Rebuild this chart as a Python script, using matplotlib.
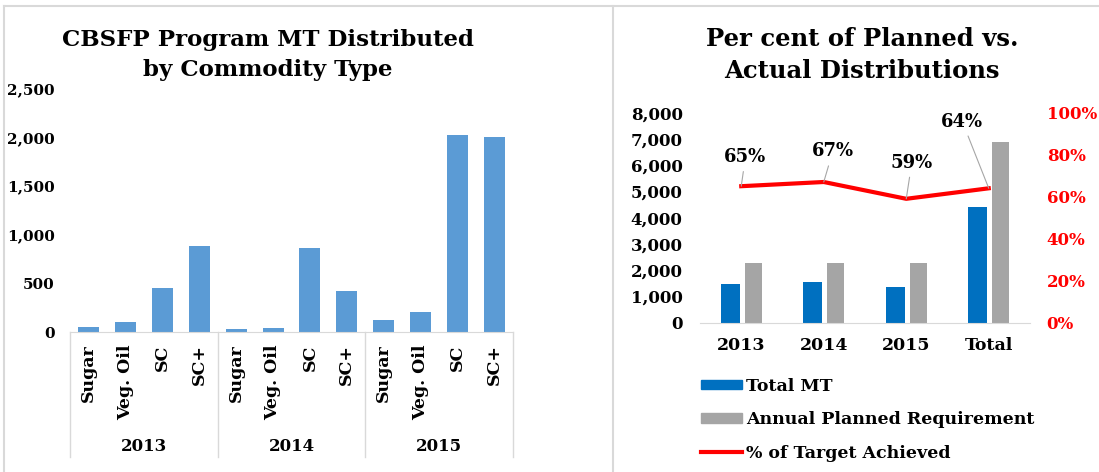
import matplotlib.pyplot as plt
from matplotlib.lines import Line2D
from matplotlib.patches import Patch

# left chart data
years = ["2013", "2014", "2015"]
commodities = ["Sugar", "Veg. Oil", "SC", "SC+"]
mt_2013 = [51, 103, 452, 883]
mt_2014 = [28, 41, 862, 421]
mt_2015 = [123, 205, 2023, 2002]

# right chart data
periods = ["2013", "2014", "2015", "Total"]
total_mt = [1480, 1550, 1360, 4390]
planned = [2290, 2290, 2290, 6870]
pct_achieved = [0.65, 0.67, 0.59, 0.64]
pct_labels = ["65%", "67%", "59%", "64%"]

W, H = 1099, 472
FONT = "DejaVu Serif"
plt.rcParams["font.family"] = FONT
plt.rcParams["font.weight"] = "bold"

fig = plt.figure(figsize=(W / 100, H / 100), dpi=100)


def fx(px):
    return px / W


def fy(py):
    return 1 - py / H


# panel borders
border = "#d9d9d9"
fig.add_artist(Line2D([fx(4), 1], [fy(6), fy(6)], color=border, lw=1.5))
fig.add_artist(Line2D([fx(4), fx(4)], [fy(6), 0], color=border, lw=1.5))
fig.add_artist(Line2D([fx(613), fx(613)], [fy(6), 0], color=border, lw=1.5))

# ---- left chart ----
ax1 = fig.add_axes([fx(70), fy(332), fx(513) - fx(70), fy(88.5) - fy(332)])
values = mt_2013 + mt_2014 + mt_2015
xs = list(range(len(values)))
ax1.bar(xs, values, width=0.57, color="#5B9BD5")
ax1.set_xlim(-0.5, len(values) - 0.5)
ax1.set_ylim(0, 2500)
ax1.set_yticks(range(0, 2501, 500))
ax1.set_yticklabels([f"{v:,}" for v in range(0, 2501, 500)], fontsize=11, fontweight="bold")
ax1.tick_params(axis="y", length=0, pad=11)
ax1.set_xticks([])
for s in ["top", "right", "left"]:
    ax1.spines[s].set_visible(False)
ax1.spines["bottom"].set_color(border)

tr = ax1.get_xaxis_transform()
i = 0
for g, yr in enumerate(years):
    for c in commodities:
        ax1.text(i, -0.05, c, rotation=90, ha="center", va="top", transform=tr,
                 fontsize=12.5, fontweight="bold")
        i += 1
    ax1.text(g * 4 + 1.5, -0.47, yr, ha="center", va="center", transform=tr,
             fontsize=12, fontweight="bold")
for b in [-0.5, 3.5, 7.5, 11.5]:
    ax1.plot([b, b], [0, -0.513], transform=tr, color=border, lw=1, clip_on=False)

fig.text(fx(268), fy(55), "CBSFP Program MT Distributed\nby Commodity Type",
         ha="center", va="center", fontsize=16.5, fontweight="bold", linespacing=1.45)

# ---- right chart ----
ax2 = fig.add_axes([fx(700), fy(322.7), fx(1030) - fx(700), fy(112.7) - fy(322.7)])
px = list(range(len(periods)))
bw = 0.23
ax2.bar([p - 0.135 for p in px], total_mt, width=bw, color="#0070C0")
ax2.bar([p + 0.145 for p in px], planned, width=bw * 0.9, color="#A5A5A5")
ax2.set_xlim(-0.5, len(periods) - 0.5)
ax2.set_ylim(0, 8000)
ax2.set_yticks(range(0, 8001, 1000))
ax2.set_yticklabels([f"{v:,}" for v in range(0, 8001, 1000)], fontsize=12, fontweight="bold")
ax2.tick_params(axis="y", length=0, pad=12.5)
ax2.set_xticks(px)
ax2.set_xticklabels(periods, fontsize=12.5, fontweight="bold")
ax2.tick_params(axis="x", length=0, pad=10)
for s in ["top", "right", "left"]:
    ax2.spines[s].set_visible(False)
ax2.spines["bottom"].set_color(border)

ax3 = ax2.twinx()
ax3.plot(px, pct_achieved, color="#FF0000", lw=3)
ax3.set_ylim(0, 1)
ax3.set_yticks([0, 0.2, 0.4, 0.6, 0.8, 1.0])
ax3.set_yticklabels(["0%", "20%", "40%", "60%", "80%", "100%"], fontsize=12,
                    fontweight="bold", color="#FF0000")
ax3.tick_params(axis="y", length=0, pad=12)
for s in ax3.spines.values():
    s.set_visible(False)

offsets = [(3, 21), (6.5, 22), (4, 26), (-19, 48)]
for p, v, lab, off in zip(px, pct_achieved, pct_labels, offsets):
    ax3.annotate(lab, (p, v), xytext=off, textcoords="offset points",
                 ha="center", va="center", fontsize=13, fontweight="bold",
                 arrowprops=dict(arrowstyle="-", color="#a6a6a6", lw=0.8,
                                 shrinkA=2, shrinkB=0))

fig.text(fx(862), fy(55), "Per cent of Planned vs.\nActual Distributions",
         ha="center", va="center", fontsize=17.5, fontweight="bold", linespacing=1.4)

handles = [Patch(color="#0070C0"), Patch(color="#A5A5A5"),
           Line2D([], [], color="#FF0000", lw=3)]
labels = ["Total MT", "Annual Planned Requirement", "% of Target Achieved"]
fig.legend(handles, labels, loc="upper left", bbox_to_anchor=(fx(685), fy(362)),
           frameon=False, prop=dict(family=FONT, weight="bold", size=12.5),
           handlelength=2.4, handleheight=0.5, handletextpad=0.2, labelspacing=0.95)

fig.savefig("out.png", dpi=100)
